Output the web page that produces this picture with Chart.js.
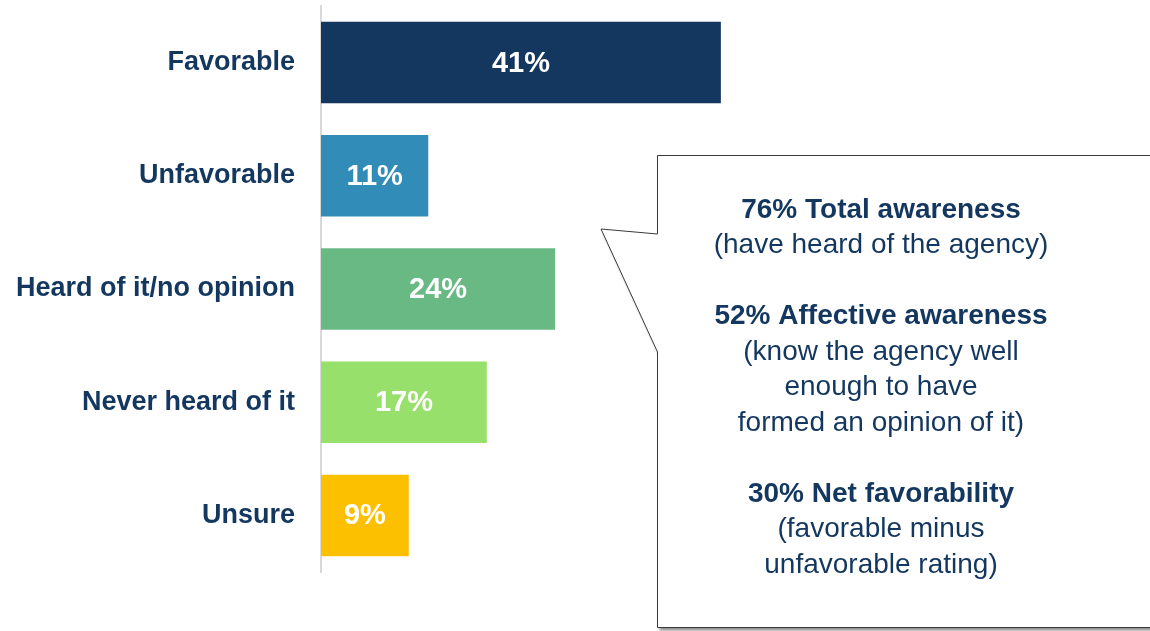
<!DOCTYPE html>
<html>
<head>
<meta charset="utf-8">
<script src="https://cdn.jsdelivr.net/npm/chart.js@4"></script>
<style>
  html, body { margin: 0; padding: 0; background: #fff; }
  #wrap { width: 1150px; height: 631px; position: relative; }
</style>
</head>
<body>
<div id="wrap"><canvas id="awarenessChart" width="1150" height="631"></canvas></div>
<script>
// Dados
const categories = ['Favorable', 'Unfavorable', 'Heard of it/no opinion', 'Never heard of it', 'Unsure'];
const values = [41, 11, 24, 17, 9];
const barColors = ['#13375e', '#318cb8', '#69b985', '#98e06c', '#fdc000'];
const calloutLines = [
    { text: '76% Total awareness', bold: true },
    { text: '(have heard of the agency)', bold: false },
    null,
    { text: '52% Affective awareness', bold: true },
    { text: '(know the agency well', bold: false },
    { text: 'enough to have', bold: false },
    { text: 'formed an opinion of it)', bold: false },
    null,
    { text: '30% Net favorability', bold: true },
    { text: '(favorable minus', bold: false },
    { text: 'unfavorable rating)', bold: false }
];

const NAVY = '#13375e';
const FONT = '"Liberation Sans", Arial, Helvetica, sans-serif';

// Rótulos dentro das barras
const valueLabels = {
    id: 'valueLabels',
    afterDatasetsDraw(chart) {
        const ctx = chart.ctx;
        const meta = chart.getDatasetMeta(0);
        ctx.save();
        ctx.fillStyle = '#ffffff';
        ctx.font = 'bold 29px ' + FONT;
        ctx.textAlign = 'center';
        ctx.textBaseline = 'middle';
        meta.data.forEach((bar, i) => {
            const cx = (bar.x + bar.base) / 2;
            ctx.fillText(values[i] + '%', cx, bar.y + 1);
        });
        ctx.restore();
    }
};

// Balão de texto
const callout = {
    id: 'callout',
    afterDraw(chart) {
        const ctx = chart.ctx;
        ctx.save();
        ctx.beginPath();
        ctx.moveTo(657.5, 155.5);
        ctx.lineTo(1152, 155.5);
        ctx.lineTo(1152, 627.5);
        ctx.lineTo(657.5, 627.5);
        ctx.lineTo(657.5, 352);
        ctx.lineTo(601, 229);
        ctx.lineTo(657.5, 234);
        ctx.closePath();
        ctx.shadowColor = 'rgba(0,0,0,0.45)';
        ctx.shadowOffsetX = 2;
        ctx.shadowOffsetY = 3;
        ctx.shadowBlur = 3;
        ctx.fillStyle = '#ffffff';
        ctx.fill();
        ctx.shadowColor = 'transparent';
        ctx.strokeStyle = '#3a3a3a';
        ctx.lineWidth = 1;
        ctx.stroke();

        ctx.fillStyle = NAVY;
        ctx.textAlign = 'center';
        ctx.textBaseline = 'middle';
        calloutLines.forEach((line, i) => {
            if (!line) return;
            ctx.font = (line.bold ? 'bold ' : '') + '28px ' + FONT;
            ctx.fillText(line.text, 881, 210 + i * 35.5);
        });
        ctx.restore();
    }
};

const ctx = document.getElementById('awarenessChart').getContext('2d');
const awarenessChart = new Chart(ctx, {
    type: 'bar',
    data: {
        labels: categories,
        datasets: [{
            data: values,
            backgroundColor: barColors,
            borderWidth: 0,
            barPercentage: 1,
            categoryPercentage: 0.72
        }]
    },
    options: {
        indexAxis: 'y',
        responsive: false,
        animation: false,
        layout: {
            padding: { top: 6, bottom: 59, left: 0, right: 0 }
        },
        plugins: {
            legend: { display: false },
            tooltip: { enabled: false }
        },
        scales: {
            x: {
                display: false,
                min: 0,
                max: 85
            },
            y: {
                grid: { display: false, drawTicks: false },
                border: { display: true, color: '#d9d9d9', width: 2 },
                ticks: {
                    color: NAVY,
                    padding: 26,
                    font: { family: FONT, size: 27, weight: 'bold' }
                },
                afterFit(scale) {
                    scale.width = 321;
                    scale.paddingTop = 0;
                    scale.paddingBottom = 0;
                }
            }
        }
    },
    plugins: [valueLabels, callout]
});
</script>
</body>
</html>
